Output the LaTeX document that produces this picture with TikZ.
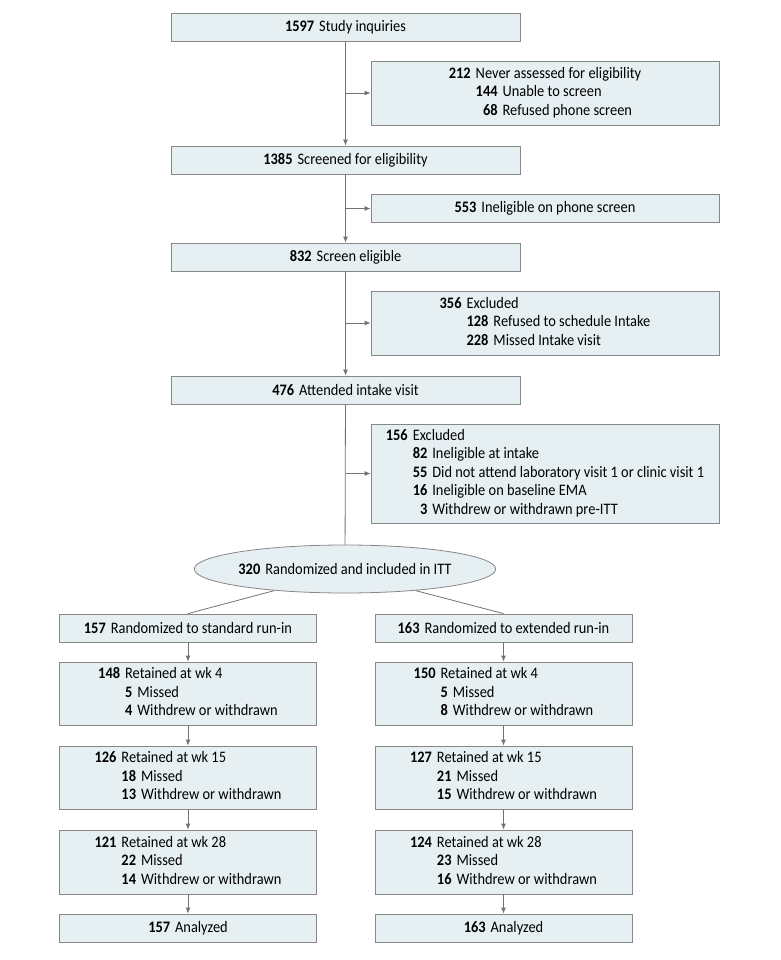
\documentclass[tikz,border=0pt]{standalone}
\usepackage{fontspec}
\setmainfont{Carlito}[FakeStretch=0.9]
\usetikzlibrary{arrows.meta,shapes.geometric}
\definecolor{boxfill}{RGB}{230,239,242}
\definecolor{boxline}{RGB}{135,135,135}
\definecolor{arrowline}{RGB}{115,115,115}
\newcommand{\cnt}[1]{\textbf{#1}\hspace{5pt}}
\newcommand{\lvlone}[2]{\textbf{#1} & \multicolumn{2}{@{}l@{}}{#2}}
\newenvironment{steps}{\begin{tabular}{@{}r@{\hspace{5pt}}r@{\hspace{5pt}}l@{}}}{\end{tabular}}
\tikzset{
  box/.style={draw=boxline,fill=boxfill,line width=0.8pt,minimum height=28,inner sep=0pt,
    font=\fontsize{16}{18.5}\selectfont,align=center},
  mainbox/.style={box,minimum width=349},
  sidebox/.style={box,minimum width=348},
  colbox/.style={box,minimum width=257},
  link/.style={draw=arrowline,line width=0.8pt},
  flow/.style={link,-{Latex[length=6pt,width=5pt]}},
}
\begin{document}
\begin{tikzpicture}[x=1pt,y=-1pt]
  \useasboundingbox (0,0) rectangle (780,960);
  % enrollment
  \node[mainbox] (inq) at (345.5,27) {\cnt{1597}Study inquiries};
  \node[sidebox,minimum height=64] (never) at (545,93) {\begin{steps}
      \lvlone{212}{Never assessed for eligibility}\\
      & \textbf{144} & Unable to screen\\
      & \textbf{68} & Refused phone screen
    \end{steps}};
  \node[mainbox] (scr) at (345.5,160) {\cnt{1385}Screened for eligibility};
  \node[sidebox] (inel) at (545,208.5) {\cnt{553}Ineligible on phone screen};
  \node[mainbox] (elig) at (345.5,257) {\cnt{832}Screen eligible};
  \node[sidebox,minimum height=64] (excl1) at (545,323) {\begin{steps}
      \lvlone{356}{Excluded}\\
      & \textbf{128} & Refused to schedule Intake\\
      & \textbf{228} & Missed Intake visit
    \end{steps}};
  \node[mainbox] (intake) at (345.5,390) {\cnt{476}Attended intake visit};
  \node[sidebox,minimum height=99] (excl2) at (545,473.5) {\begin{steps}
      \lvlone{156}{Excluded}\\
      & \textbf{82} & Ineligible at intake\\
      & \textbf{55} & Did not attend laboratory visit 1 or clinic visit 1\\
      & \textbf{16} & Ineligible on baseline EMA\\
      & \textbf{3} & Withdrew or withdrawn pre-ITT
    \end{steps}};
  \node[box,ellipse,minimum width=298,minimum height=48] (rand) at (345,569)
    {\cnt{320}Randomized and included in ITT};

  % standard run-in
  \node[colbox] (stdA) at (188,628) {\cnt{157}Randomized to standard run-in};
  \node[colbox,minimum height=63] (stdB) at (188,693.5) {\begin{steps}
      \lvlone{148}{Retained at wk 4}\\
      & \textbf{5} & Missed\\
      & \textbf{4} & Withdrew or withdrawn
    \end{steps}};
  \node[colbox,minimum height=63] (stdC) at (188,777.5) {\begin{steps}
      \lvlone{126}{Retained at wk 15}\\
      & \textbf{18} & Missed\\
      & \textbf{13} & Withdrew or withdrawn
    \end{steps}};
  \node[colbox,minimum height=64] (stdD) at (188,862) {\begin{steps}
      \lvlone{121}{Retained at wk 28}\\
      & \textbf{22} & Missed\\
      & \textbf{14} & Withdrew or withdrawn
    \end{steps}};
  \node[colbox] (stdE) at (188,928) {\cnt{157}Analyzed};

  % extended run-in
  \node[colbox] (extA) at (503.5,628) {\cnt{163}Randomized to extended run-in};
  \node[colbox,minimum height=63] (extB) at (503.5,693.5) {\begin{steps}
      \lvlone{150}{Retained at wk 4}\\
      & \textbf{5} & Missed\\
      & \textbf{8} & Withdrew or withdrawn
    \end{steps}};
  \node[colbox,minimum height=63] (extC) at (503.5,777.5) {\begin{steps}
      \lvlone{127}{Retained at wk 15}\\
      & \textbf{21} & Missed\\
      & \textbf{15} & Withdrew or withdrawn
    \end{steps}};
  \node[colbox,minimum height=64] (extD) at (503.5,862) {\begin{steps}
      \lvlone{124}{Retained at wk 28}\\
      & \textbf{23} & Missed\\
      & \textbf{16} & Withdrew or withdrawn
    \end{steps}};
  \node[colbox] (extE) at (503.5,928) {\cnt{163}Analyzed};

  % connectors
  \draw[flow] (inq) -- (scr);
  \draw[flow] (inq |- never) -- (never);
  \draw[flow] (scr) -- (elig);
  \draw[flow] (scr |- inel) -- (inel);
  \draw[flow] (elig) -- (intake);
  \draw[flow] (elig |- excl1) -- (excl1);
  \draw[link] (intake) -- (rand);
  \draw[flow] (intake |- excl2) -- (excl2);
  \draw[link] (rand.197) -- (stdA.north);
  \draw[link] (rand.-17) -- (extA.north);
  \foreach \col in {std,ext}{
    \draw[flow] (\col A) -- (\col B);
    \draw[flow] (\col B) -- (\col C);
    \draw[flow] (\col C) -- (\col D);
    \draw[flow] (\col D) -- (\col E);
  }
\end{tikzpicture}
\end{document}
